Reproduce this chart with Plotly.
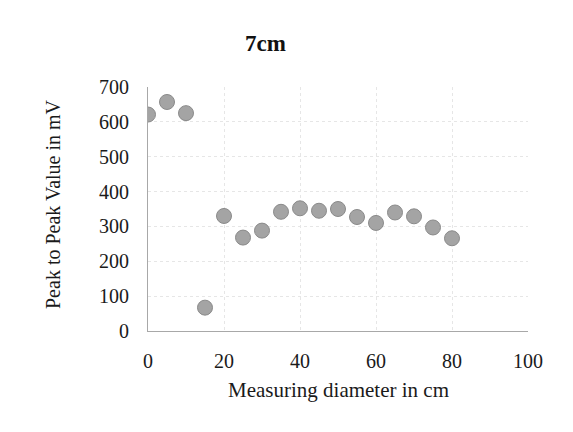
import plotly.graph_objects as go

diameter_cm = [0, 5, 10, 15, 20, 25, 30, 35, 40, 45, 50, 55, 60, 65, 70, 75, 80]
peak_to_peak_mv = [621, 657, 625, 67, 330, 268, 288, 342, 352, 345, 350, 327, 310, 340, 329, 297, 266]
x_ticks = [0, 20, 40, 60, 80, 100]
y_ticks = [0, 100, 200, 300, 400, 500, 600, 700]

FONT = "Liberation Serif"
OFF = 8  # page body margin
L, R, T, B = 148 - OFF, 528 - OFF, 87 - OFF, 331 - OFF
W, H = 573 - OFF, 432 - OFF

def px_x(p):
    return (p - OFF - L) / (R - L)

def px_y(p):
    return (B - (p - OFF)) / (B - T)

fig = go.Figure()
fig.add_trace(go.Scatter(
    x=diameter_cm, y=peak_to_peak_mv, mode="markers",
    marker=dict(size=15, color="#a4a4a4", line=dict(width=1, color="#8a8a8a")),
    showlegend=False,
))

fig.update_layout(
    width=W, height=H,
    margin=dict(l=L, r=W - R, t=T, b=H - B),
    paper_bgcolor="white", plot_bgcolor="white",
    font=dict(family=FONT, color="#1a1a1a", size=20),
    annotations=[
        dict(text="<b>7cm</b>", x=px_x(265), y=px_y(43), xref="paper", yref="paper",
             showarrow=False, xanchor="center", yanchor="middle",
             font=dict(size=23, family=FONT, color="#111111")),
        dict(text="Measuring diameter in cm", x=px_x(338), y=px_y(390), xref="paper", yref="paper",
             showarrow=False, xanchor="center", yanchor="middle",
             font=dict(size=21, family=FONT, color="#1a1a1a")),
        dict(text="Peak to Peak Value in mV", x=px_x(53), y=px_y(204), xref="paper", yref="paper",
             showarrow=False, xanchor="center", yanchor="middle", textangle=-90,
             font=dict(size=20, family=FONT, color="#1a1a1a")),
    ],
)

fig.update_xaxes(
    range=[0, 100], tickvals=x_ticks, showgrid=True, gridcolor="#e6e6e6", griddash="dot",
    gridwidth=1, zeroline=False, showline=True, linecolor="#a8a8a8", linewidth=1,
    ticks="outside", ticklen=12, tickcolor="rgba(0,0,0,0)", automargin=False,
    tickfont=dict(size=20),
)
fig.update_yaxes(
    range=[0, 700], tickvals=y_ticks, showgrid=True, gridcolor="#e6e6e6", griddash="dot",
    gridwidth=1, zeroline=False, showline=True, linecolor="#a8a8a8", linewidth=1,
    ticks="outside", ticklen=14, tickcolor="rgba(0,0,0,0)", automargin=False,
    tickfont=dict(size=20),
)

fig.write_html("out.html")
